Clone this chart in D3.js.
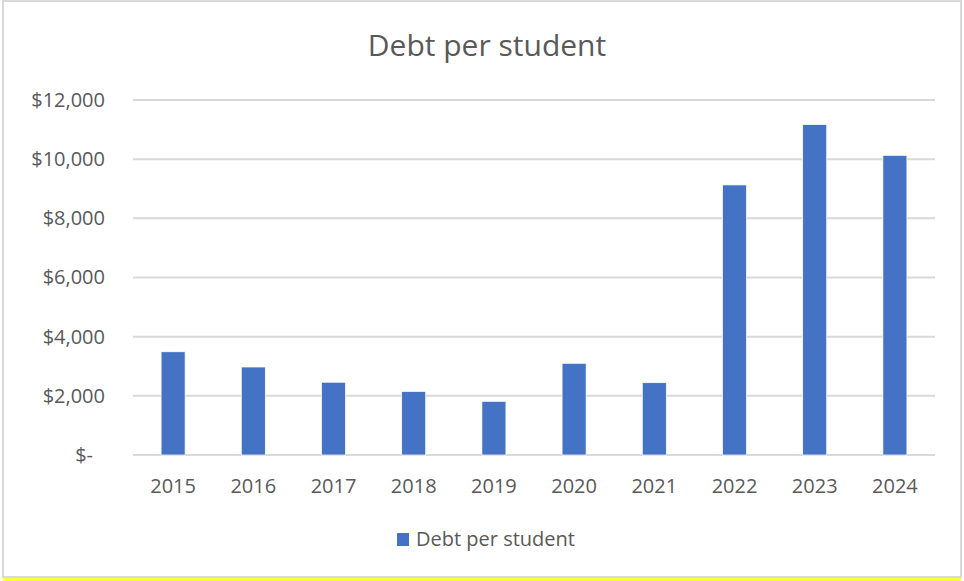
<!DOCTYPE html>
<html>
<head>
<meta charset="utf-8">
<script src="https://cdn.jsdelivr.net/npm/d3@7"></script>
<style>
  body { margin: 0; background: #fff; }
  svg text { font-family: "Open Sans", sans-serif; fill: #595959; }
</style>
</head>
<body>
<div id="chart"></div>
<script>
// data
const years = ['2015', '2016', '2017', '2018', '2019', '2020', '2021', '2022', '2023', '2024'];
const debt = [3490, 2975, 2460, 2150, 1815, 3100, 2445, 9130, 11170, 10130];
const yTicks = [0, 2000, 4000, 6000, 8000, 10000, 12000];
const seriesName = 'Debt per student';

const W = 964, H = 581;
const margin = {top: 100, right: 29, bottom: 126, left: 133};
const width = W - margin.left - margin.right,
      height = H - margin.top - margin.bottom;

const svg = d3.select('#chart')
  .append('svg')
  .attr('width', W)
  .attr('height', H);

// outer chart border
svg.append('rect')
  .attr('x', 3).attr('y', 1)
  .attr('width', 958).attr('height', 576)
  .attr('fill', '#fff')
  .attr('stroke', '#d9d9d9')
  .attr('stroke-width', 2);
svg.append('rect')
  .attr('x', 3).attr('y', 578)
  .attr('width', 958).attr('height', 3)
  .attr('fill', '#ffff33');

svg.append('text')
  .attr('x', 487).attr('y', 56)
  .attr('text-anchor', 'middle')
  .style('font-size', '30px')
  .text(seriesName);

const g = svg.append('g')
  .attr('transform', 'translate(' + margin.left + ',' + margin.top + ')');

const x = d3.scaleBand()
  .domain(years)
  .range([0, width])
  .paddingInner(0.7)
  .paddingOuter(0.35);

const y = d3.scaleLinear()
  .domain([0, 12000])
  .range([height, 0]);

// gridlines
g.append('g')
  .selectAll('line')
  .data(yTicks)
  .enter()
  .append('line')
  .attr('x1', 0).attr('x2', width)
  .attr('y1', d => y(d)).attr('y2', d => y(d))
  .attr('stroke', '#d9d9d9')
  .attr('stroke-width', 2);

const fmt = d => d === 0 ? '$-' : '$' + d3.format(',')(d);

const yAxis = g.append('g')
  .call(d3.axisLeft(y).tickValues(yTicks).tickFormat(fmt).tickSize(0).tickPadding(28));
yAxis.select('.domain').remove();
yAxis.selectAll('text').style('font-size', '20px').attr('fill', '#595959');
yAxis.selectAll('text').filter(d => d === 0).attr('dx', '-12');

const xAxis = g.append('g')
  .attr('transform', 'translate(0,' + height + ')')
  .call(d3.axisBottom(x).tickSize(0).tickPadding(24));
xAxis.select('.domain').remove();
xAxis.selectAll('text').style('font-size', '20px').attr('fill', '#595959');

g.append('g')
  .selectAll('rect')
  .data(debt)
  .enter()
  .append('rect')
  .attr('x', (d, i) => x(years[i]))
  .attr('y', d => y(d))
  .attr('width', x.bandwidth())
  .attr('height', d => height - y(d))
  .attr('fill', '#4472c4')
  .attr('stroke', '#fff')
  .attr('stroke-width', 0.75);

// legend
const legend = svg.append('g').attr('transform', 'translate(397,533)');
legend.append('rect')
  .attr('width', 12).attr('height', 13)
  .attr('fill', '#4472c4');
legend.append('text')
  .attr('x', 19).attr('y', 13)
  .style('font-size', '20px')
  .text(seriesName);
</script>
</body>
</html>
